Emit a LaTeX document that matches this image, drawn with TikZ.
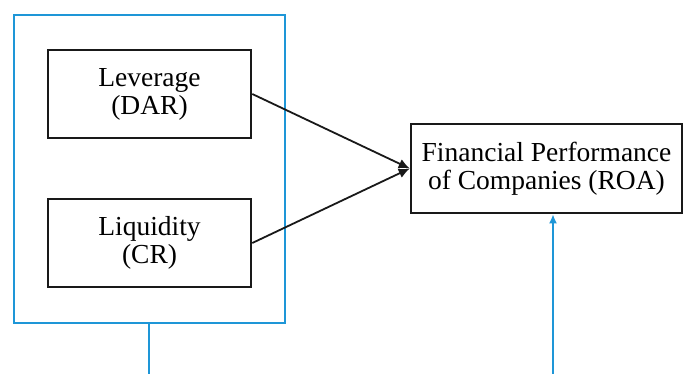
\documentclass[tikz,border=0pt]{standalone}
\usepackage{fontspec}
\setmainfont{Liberation Serif}
\usetikzlibrary{arrows.meta}
\definecolor{frameblue}{RGB}{30,150,215}
\begin{document}
\begin{tikzpicture}[x=1pt,y=-1pt,
  varbox/.style={draw=black!90,line width=2.6pt,minimum width=203pt,minimum height=88pt,inner sep=0pt,align=center,
    font=\fontsize{27.5}{28}\selectfont},
  resbox/.style={draw=black!90,line width=2.6pt,minimum width=271pt,minimum height=89pt,inner sep=0pt,align=center,
    font=\fontsize{27.5}{28}\selectfont},
  grpbox/.style={draw=frameblue,line width=2pt,minimum width=271pt,minimum height=308pt,inner sep=0pt},
  blueline/.style={draw=frameblue,line width=2pt},
  link/.style={draw=black!90,line width=1.8pt,-{Latex[length=11pt,width=10pt]}}]
\useasboundingbox (0,0) rectangle (683,374);
\node[grpbox] (grp) at (149,169) {};
\node[varbox] (lev) at (149.5,94) {Leverage\\(DAR)};
\node[varbox] (liq) at (149.5,243) {Liquidity\\(CR)};
\node[resbox] (fin) at (546.5,168.5) {Financial Performance\\of Companies (ROA)};
\coordinate (gend) at (149,374);
\coordinate (fstart) at (553,374);
\draw[link] (lev.east) -- (fin.west);
\draw[link] (liq.east) -- (fin.west);
\draw[blueline] (grp.south) -- (gend);
\draw[blueline,-{Latex[length=9pt,width=8pt]}] (fstart) -- (fin.south -| fstart);
\end{tikzpicture}
\end{document}
